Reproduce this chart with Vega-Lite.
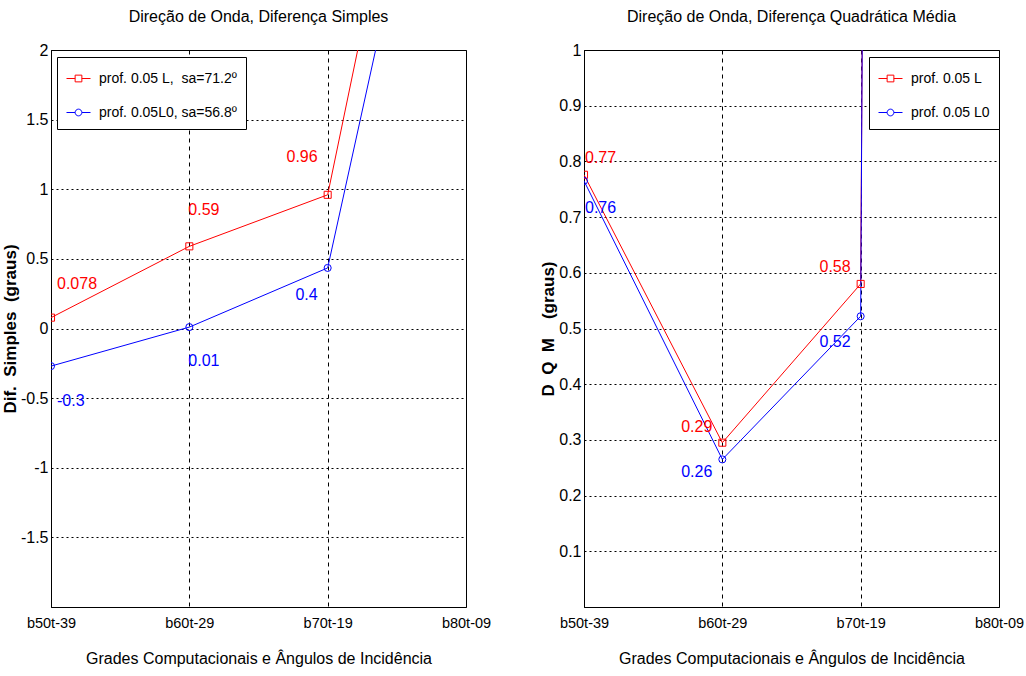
{
  "$schema": "https://vega.github.io/schema/vega-lite/v6.json",
  "background": "white",
  "padding": {"left": 0, "top": 8, "right": 0, "bottom": 5},
  "spacing": 118,
  "bounds": "flush",
  "resolve": {"scale": {"color": "independent"}, "legend": {"color": "independent"}},
  "config": {
    "font": "Liberation Sans",
    "view": {"stroke": "black", "strokeWidth": 1},
    "title": {"font": "Liberation Sans", "fontSize": 16, "fontWeight": "normal", "color": "black", "offset": 17},
    "axis": {
      "labelFont": "Liberation Sans", "labelFontSize": 16, "labelColor": "black",
      "titleFont": "Liberation Sans", "titleFontSize": 16, "titleFontWeight": "normal", "titleColor": "black",
      "domainColor": "black", "ticks": false, "labelPadding": 3,
      "gridColor": "black", "gridOpacity": 1, "gridWidth": 1
    },
    "axisX": {"grid": true, "gridDash": [4, 4], "titlePadding": 21, "labelPadding": 9, "labelFontSize": 14.5},
    "axisY": {"gridDash": [2, 3], "titleFont": "Liberation Sans", "titleFontWeight": "bold", "titleFontSize": 17, "titlePadding": 1},
    "legend": {
      "labelFont": "Liberation Sans", "labelFontSize": 14, "labelColor": "black", "labelLimit": 400,
      "strokeColor": "black", "fillColor": "white", "padding": 9, "rowPadding": 14,
      "symbolSize": 576, "symbolStrokeWidth": 1, "symbolFillColor": "transparent", "labelOffset": 8,
      "orient": "none"
    }
  },
  "hconcat": [
    {
      "width": 415,
      "height": 557,
      "title": "Direção de Onda, Diferença Simples",
      "data": {"values": [
        {"grade": "b50t-39", "series": "prof. 0.05 L,\u00a0 sa=71.2º", "value": 0.078},
        {"grade": "b60t-29", "series": "prof. 0.05 L,\u00a0 sa=71.2º", "value": 0.59},
        {"grade": "b70t-19", "series": "prof. 0.05 L,\u00a0 sa=71.2º", "value": 0.96},
        {"grade": "b80t-09", "series": "prof. 0.05 L,\u00a0 sa=71.2º", "value": 5.75},
        {"grade": "b50t-39", "series": "prof. 0.05L0, sa=56.8º", "value": -0.27},
        {"grade": "b60t-29", "series": "prof. 0.05L0, sa=56.8º", "value": 0.01},
        {"grade": "b70t-19", "series": "prof. 0.05L0, sa=56.8º", "value": 0.435},
        {"grade": "b80t-09", "series": "prof. 0.05L0, sa=56.8º", "value": 4.95}
      ]},
      "encoding": {
        "x": {"field": "grade", "type": "ordinal",
              "scale": {"type": "point", "padding": 0, "domain": ["b50t-39", "b60t-29", "b70t-19", "b80t-09"]},
              "axis": {"labelAngle": 0, "grid": true, "title": "Grades Computacionais e Ângulos de Incidência"}},
        "y": {"field": "value", "type": "quantitative", "title": "Dif.\u00a0\u00a0Simples\u00a0\u00a0(graus)",
              "scale": {"domain": [-2, 2], "nice": false, "zero": false},
              "axis": {"values": [-1.5, -1, -0.5, 0, 0.5, 1, 1.5, 2], "labelExpr": "'' + datum.value"}},
        "color": {"field": "series", "type": "nominal",
                  "scale": {"domain": ["prof. 0.05 L,\u00a0 sa=71.2º", "prof. 0.05L0, sa=56.8º"], "range": ["#ff0000", "#0000ff"]},
                  "legend": null}
      },
      "layer": [
        {
          "mark": {"type": "line", "clip": true, "strokeWidth": 1},
          "encoding": {
            "color": {"field": "series", "type": "nominal",
                      "legend": {"title": null, "legendX": 6, "legendY": 7,
                                 "encode": {"symbols": {"update": {
                                   "shape": {"signal": "indexof(datum.value, 'L0') >= 0 ? 'M-1,0H-0.28M0.28,0H1M-0.28,0A0.28,0.28 0 1,0 0.28,0A0.28,0.28 0 1,0 -0.28,0Z' : 'M-1,0H-0.28M0.28,0H1M-0.28,-0.28H0.28V0.28H-0.28Z'"},
                                   "fillOpacity": {"value": 0}}}}}}
          }
        },
        {
          "transform": [{"filter": "indexof(datum.series, 'L0') < 0"}],
          "mark": {"type": "point", "shape": "square", "clip": true, "filled": false, "size": 50, "strokeWidth": 1, "opacity": 1}
        },
        {
          "transform": [{"filter": "indexof(datum.series, 'L0') >= 0"}],
          "mark": {"type": "point", "shape": "circle", "clip": true, "filled": false, "size": 50, "strokeWidth": 1, "opacity": 1}
        },
        {
          "data": {"name": "labelsLeft", "values": [
            {"grade": "b50t-39", "series": "prof. 0.05 L,\u00a0 sa=71.2º", "label": "0.078", "label_y": 0.32},
            {"grade": "b60t-29", "series": "prof. 0.05 L,\u00a0 sa=71.2º", "label": "0.59", "label_y": 0.85},
            {"grade": "b70t-19", "series": "prof. 0.05 L,\u00a0 sa=71.2º", "label": "0.96", "label_y": 1.23},
            {"grade": "b50t-39", "series": "prof. 0.05L0, sa=56.8º", "label": "-0.3", "label_y": -0.52},
            {"grade": "b60t-29", "series": "prof. 0.05L0, sa=56.8º", "label": "0.01", "label_y": -0.23},
            {"grade": "b70t-19", "series": "prof. 0.05L0, sa=56.8º", "label": "0.4", "label_y": 0.24}
          ]},
          "transform": [{"filter": "datum.grade == 'b50t-39'"}],
          "mark": {"type": "text", "align": "left", "baseline": "middle", "dx": 6, "fontSize": 16, "font": "Liberation Sans"},
          "encoding": {
            "y": {"field": "label_y", "type": "quantitative", "title": "Dif.\u00a0\u00a0Simples\u00a0\u00a0(graus)"},
            "text": {"field": "label"}
          }
        },
        {
          "data": {"name": "labelsLeft"},
          "transform": [{"filter": "datum.grade == 'b60t-29'"}],
          "mark": {"type": "text", "align": "left", "baseline": "middle", "dx": -1, "fontSize": 16, "font": "Liberation Sans"},
          "encoding": {
            "y": {"field": "label_y", "type": "quantitative", "title": "Dif.\u00a0\u00a0Simples\u00a0\u00a0(graus)"},
            "text": {"field": "label"}
          }
        },
        {
          "data": {"name": "labelsLeft"},
          "transform": [{"filter": "datum.grade == 'b70t-19'"}],
          "mark": {"type": "text", "align": "right", "baseline": "middle", "dx": -10, "fontSize": 16, "font": "Liberation Sans"},
          "encoding": {
            "y": {"field": "label_y", "type": "quantitative", "title": "Dif.\u00a0\u00a0Simples\u00a0\u00a0(graus)"},
            "text": {"field": "label"}
          }
        }
      ]
    },
    {
      "width": 415,
      "height": 557,
      "title": "Direção de Onda, Diferença Quadrática Média",
      "data": {"values": [
        {"grade": "b50t-39", "series": "prof. 0.05 L", "value": 0.776},
        {"grade": "b60t-29", "series": "prof. 0.05 L", "value": 0.295},
        {"grade": "b70t-19", "series": "prof. 0.05 L", "value": 0.58},
        {"grade": "b80t-09", "series": "prof. 0.05 L", "value": 40},
        {"grade": "b50t-39", "series": "prof. 0.05 L0", "value": 0.765},
        {"grade": "b60t-29", "series": "prof. 0.05 L0", "value": 0.265},
        {"grade": "b70t-19", "series": "prof. 0.05 L0", "value": 0.522},
        {"grade": "b80t-09", "series": "prof. 0.05 L0", "value": 45}
      ]},
      "encoding": {
        "x": {"field": "grade", "type": "ordinal",
              "scale": {"type": "point", "padding": 0, "domain": ["b50t-39", "b60t-29", "b70t-19", "b80t-09"]},
              "axis": {"labelAngle": 0, "grid": true, "title": "Grades Computacionais e Ângulos de Incidência"}},
        "y": {"field": "value", "type": "quantitative", "title": "D\u00a0\u00a0Q\u00a0\u00a0M\u00a0\u00a0\u00a0\u00a0(graus)",
              "scale": {"domain": [0, 1], "nice": false},
              "axis": {"values": [0.1, 0.2, 0.3, 0.4, 0.5, 0.6, 0.7, 0.8, 0.9, 1], "labelExpr": "'' + datum.value"}},
        "color": {"field": "series", "type": "nominal",
                  "scale": {"domain": ["prof. 0.05 L", "prof. 0.05 L0"], "range": ["#ff0000", "#0000ff"]},
                  "legend": null}
      },
      "layer": [
        {
          "mark": {"type": "line", "clip": true, "strokeWidth": 1},
          "encoding": {
            "color": {"field": "series", "type": "nominal",
                      "legend": {"title": null, "legendX": 285, "legendY": 7,
                                 "encode": {"symbols": {"update": {
                                   "shape": {"signal": "indexof(datum.value, 'L0') >= 0 ? 'M-1,0H-0.28M0.28,0H1M-0.28,0A0.28,0.28 0 1,0 0.28,0A0.28,0.28 0 1,0 -0.28,0Z' : 'M-1,0H-0.28M0.28,0H1M-0.28,-0.28H0.28V0.28H-0.28Z'"},
                                   "fillOpacity": {"value": 0}}}}}}
          }
        },
        {
          "transform": [{"filter": "indexof(datum.series, 'L0') < 0"}],
          "mark": {"type": "point", "shape": "square", "clip": true, "filled": false, "size": 50, "strokeWidth": 1, "opacity": 1}
        },
        {
          "transform": [{"filter": "indexof(datum.series, 'L0') >= 0"}],
          "mark": {"type": "point", "shape": "circle", "clip": true, "filled": false, "size": 50, "strokeWidth": 1, "opacity": 1}
        },
        {
          "data": {"name": "labelsRight", "values": [
            {"grade": "b50t-39", "series": "prof. 0.05 L", "label": "0.77", "label_y": 0.806},
            {"grade": "b60t-29", "series": "prof. 0.05 L", "label": "0.29", "label_y": 0.323},
            {"grade": "b70t-19", "series": "prof. 0.05 L", "label": "0.58", "label_y": 0.61},
            {"grade": "b50t-39", "series": "prof. 0.05 L0", "label": "0.76", "label_y": 0.716},
            {"grade": "b60t-29", "series": "prof. 0.05 L0", "label": "0.26", "label_y": 0.242},
            {"grade": "b70t-19", "series": "prof. 0.05 L0", "label": "0.52", "label_y": 0.476}
          ]},
          "transform": [{"filter": "datum.grade == 'b50t-39'"}],
          "mark": {"type": "text", "align": "left", "baseline": "middle", "dx": 1, "fontSize": 16, "font": "Liberation Sans"},
          "encoding": {
            "y": {"field": "label_y", "type": "quantitative", "title": "D\u00a0\u00a0Q\u00a0\u00a0M\u00a0\u00a0\u00a0\u00a0(graus)"},
            "text": {"field": "label"}
          }
        },
        {
          "data": {"name": "labelsRight"},
          "transform": [{"filter": "datum.grade != 'b50t-39'"}],
          "mark": {"type": "text", "align": "right", "baseline": "middle", "dx": -10, "fontSize": 16, "font": "Liberation Sans"},
          "encoding": {
            "y": {"field": "label_y", "type": "quantitative", "title": "D\u00a0\u00a0Q\u00a0\u00a0M\u00a0\u00a0\u00a0\u00a0(graus)"},
            "text": {"field": "label"}
          }
        }
      ]
    }
  ]
}
